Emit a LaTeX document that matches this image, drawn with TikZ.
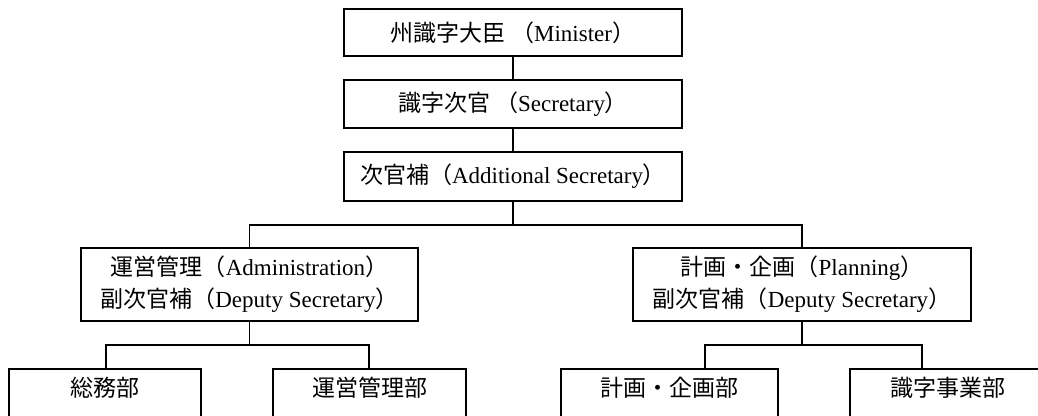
\documentclass[tikz,border=0pt]{standalone}
\usepackage{fontspec}
\setmainfont{Liberation Serif}
\newfontfamily\cjk{Noto Sans CJK JP}
\newcommand{\jp}[1]{{\cjk #1}}
\begin{document}
\begin{tikzpicture}[x=1pt,y=-1pt,
  box/.style={draw, line width=1.8pt, inner sep=0pt, align=center,
    font=\fontsize{23}{32}\selectfont},
  conn/.style={line width=1.8pt},
  dept/.style={box, anchor=north, text height=28pt, text depth=40pt}]
\useasboundingbox (0,0) rectangle (1038,415);
\clip (0,0) rectangle (1038,415);
\node[box, minimum width=338, minimum height=47] (min) at (513,32.5) {\jp{州識字大臣 （}Minister\jp{）}};
\node[box, minimum width=338, minimum height=48] (sec) at (513,104) {\jp{識字次官 （}Secretary\jp{）}};
\node[box, minimum width=338, minimum height=49] (add) at (513,176.5) {\jp{次官補（}Additional Secretary\jp{）}};
\node[box, minimum width=337, minimum height=73] (adm) at (249.5,284.5) {\jp{運営管理（}Administration\jp{）}\\\jp{副次官補（}Deputy Secretary\jp{）}};
\node[box, minimum width=338, minimum height=73] (pln) at (802,284.5) {\jp{計画・企画（}Planning\jp{）}\\\jp{副次官補（}Deputy Secretary\jp{）}};
\node[dept, minimum width=192] (b1) at (105,368) {\jp{総務部}};
\node[dept, minimum width=193] (b2) at (369.5,368) {\jp{運営管理部}};
\node[dept, minimum width=217] (b3) at (669.5,368) {\jp{計画・企画部}};
\node[dept, minimum width=196] (b4) at (948,368) {\jp{識字事業部}};
\coordinate (ja) at (249.5,225);
\coordinate (jb) at (802,225);
\coordinate (j1) at (106,345);
\coordinate (j2) at (369,345);
\coordinate (j3) at (705,345);
\coordinate (j4) at (922,345);
\draw[conn] (min) -- (sec);
\draw[conn] (sec) -- (add);
\draw[conn] (add.south) -- (add.south |- ja);
\draw[conn] (adm.north) -- (ja) -- (jb) -- (pln.north);
\draw[conn] (adm.south) -- (adm.south |- j1);
\draw[conn] (j1 |- b1.north) -- (j1) -- (j2) -- (j2 |- b2.north);
\draw[conn] (pln.south) -- (pln.south |- j3);
\draw[conn] (j3 |- b3.north) -- (j3) -- (j4) -- (j4 |- b4.north);
\end{tikzpicture}
\end{document}
